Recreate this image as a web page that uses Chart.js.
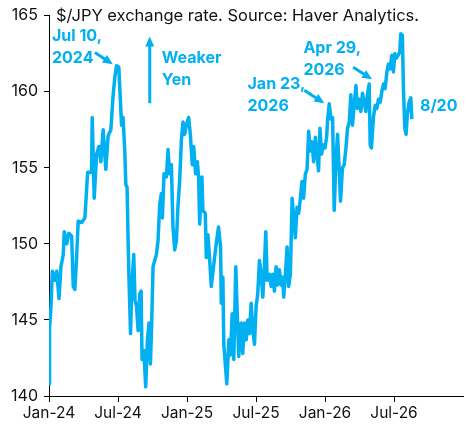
<!DOCTYPE html>
<html>
<head>
<meta charset="utf-8">
<script src="https://cdn.jsdelivr.net/npm/chart.js@4.4.1/dist/chart.umd.min.js"></script>
<style>
  html, body { margin: 0; padding: 0; background: #fff; }
  #wrap { width: 470px; height: 432px; }
</style>
</head>
<body>
<div id="wrap"><canvas id="fx"></canvas></div>
<script>
// x values are months since Jan 1, 2024
const months = [
  0.00, 0.05, 0.17, 0.29, 0.52, 0.67, 0.87, 1.04, 1.24, 1.33, 1.54, 1.73, 1.97, 2.11, 2.25, 2.40,
  2.54, 2.84, 3.12, 3.36, 3.70, 3.76, 3.93, 4.14, 4.34, 4.51, 4.71, 4.94, 5.14, 5.38, 5.58, 5.72,
  5.87, 6.07, 6.31, 6.44, 6.59, 6.68, 6.79, 6.88, 6.96, 7.09, 7.20, 7.37, 7.48, 7.61, 7.75, 7.89,
  8.01, 8.09, 8.24, 8.41, 8.56, 8.70, 8.82, 8.93, 9.05, 9.19, 9.34, 9.48, 9.63, 9.77, 9.86, 10.00,
  10.21, 10.35, 10.49, 10.64, 10.78, 10.93, 11.08, 11.21, 11.36, 11.51, 11.65, 11.80, 11.94, 12.14,
  12.29, 12.46, 12.58, 12.75, 12.90, 13.01, 13.10, 13.30, 13.38, 13.59, 13.68, 13.82, 13.96, 14.11,
  14.34, 14.54, 14.74, 14.92, 14.98, 15.12, 15.20, 15.35, 15.46, 15.64, 15.78, 15.93, 16.07, 16.24,
  16.37, 16.50, 16.71, 16.85, 17.00, 17.15, 17.29, 17.43, 17.58, 17.72, 17.87, 18.01, 18.15, 18.30,
  18.45, 18.59, 18.73, 18.85, 18.97, 19.17, 19.32, 19.45, 19.60, 19.75, 19.89, 20.03, 20.18, 20.32,
  20.41, 20.56, 20.70, 20.84, 20.99, 21.14, 21.27, 21.42, 21.57, 21.71, 21.86, 22.00, 22.14, 22.29,
  22.44, 22.58, 22.72, 22.87, 23.01, 23.16, 23.30, 23.44, 23.56, 23.70, 23.85, 24.00, 24.14, 24.22,
  24.37, 24.52, 24.66, 24.80, 24.95, 25.09, 25.24, 25.35, 25.52, 25.67, 25.82, 25.96, 26.11, 26.25,
  26.39, 26.54, 26.69, 26.82, 26.97, 27.12, 27.26, 27.41, 27.55, 27.69, 27.84, 27.93, 28.04, 28.21,
  28.36, 28.51, 28.65, 28.80, 28.94, 29.08, 29.23, 29.38, 29.51, 29.66, 29.81, 29.95, 30.07, 30.21,
  30.36, 30.50, 30.59, 30.73, 30.82, 30.94, 31.05, 31.16, 31.31, 31.46, 31.55
];

// $/JPY
const rates = [
  140.8, 144.5, 145.8, 148.2, 147.6, 148.2, 146.4, 148.5, 149.3, 150.8, 150.0, 150.7, 150.5, 147.2, 147.0, 149.1,
  151.5, 151.4, 151.7, 154.7, 154.7, 158.3, 153.0, 155.9, 156.4, 155.4, 157.5, 154.9, 157.1, 157.5, 159.8, 160.9,
  161.7, 161.6, 157.8, 158.3, 156.1, 153.9, 153.7, 150.2, 147.6, 144.1, 147.2, 149.3, 146.3, 145.9, 144.3, 146.7,
  146.9, 142.4, 143.0, 140.6, 143.7, 144.8, 142.1, 144.8, 148.5, 148.9, 149.3, 150.2, 152.6, 153.3, 151.7, 154.6,
  154.4, 156.2, 154.6, 155.2, 151.1, 149.6, 150.2, 152.4, 154.1, 156.8, 158.0, 157.2, 157.8, 158.3,
  157.2, 155.2, 156.4, 154.6, 155.4, 154.4, 151.3, 154.4, 152.2, 152.0, 149.1, 150.6, 149.1, 147.2,
  148.7, 150.0, 151.1, 149.8, 146.1, 147.8, 143.4, 141.9, 140.8, 143.7, 142.7, 145.4, 142.4, 148.5,
  145.4, 142.6, 144.8, 142.8, 144.8, 143.7, 145.0, 144.1, 146.1, 144.3, 143.4, 145.9, 146.7, 148.9,
  148.0, 146.5, 148.5, 150.8, 147.6, 148.0, 147.2, 148.0, 146.9, 148.5, 147.3, 148.3, 147.3, 147.8,
  146.5, 148.0, 149.8, 147.2, 148.0, 153.0, 151.9, 150.4, 152.4, 152.0, 153.0, 154.1, 153.0, 154.6,
  154.9, 157.4, 156.1, 156.7, 155.4, 157.0, 155.9, 154.8, 157.6, 155.9, 156.5, 156.3, 157.0, 158.1,
  159.2, 158.2, 158.3, 152.2, 155.4, 157.2, 154.8, 152.8, 155.0, 155.2, 156.3, 157.6, 158.0, 159.8,
  157.8, 159.1, 160.4, 158.9, 159.5, 158.7, 159.9, 159.3, 158.7, 159.8, 160.5, 156.5, 156.3, 158.3,
  159.1, 158.9, 159.5, 159.3, 160.0, 160.5, 160.2, 161.3, 161.8, 161.5, 162.4, 161.3, 162.5, 162.2,
  162.4, 162.6, 163.8, 163.7, 160.2, 157.6, 157.2, 158.5, 159.3, 159.6, 158.2
];

// tick labels every 6 months, last tick (Jan-27) left blank
const tickMonths = [0, 6, 12, 18, 24, 30, 36];
const tickLabels = ['Jan-24', 'Jul-24', 'Jan-25', 'Jul-25', 'Jan-26', 'Jul-26', ''];

// annotation texts, anchored in data units (month, rate)
const notes = [
  { lines: ['Jul 10,', '2024'], x: 0.26, y: 163.63 },
  { lines: ['Weaker', 'Yen'], x: 9.80, y: 162.22 },
  { lines: ['Jan 23,', '2026'], x: 17.26, y: 160.52 },
  { lines: ['Apr 29,', '2026'], x: 22.12, y: 162.87 },
  { lines: ['8/20'], x: 32.26, y: 159.05 }
];
// arrows: from [x, y] to [x, y], head at the "to" end
const arrows = [
  { from: [3.99, 162.58], to: [5.55, 161.80] },
  { from: [8.76, 159.24], to: [8.76, 163.63] },
  { from: [22.2, 160.09], to: [23.94, 159.24] },
  { from: [26.45, 161.60], to: [28.1, 160.81] }
];

const titleText = '$/JPY exchange rate. Source: Haver Analytics.';
const blue = '#00B0F0';
const fontFam = 'Inter, "Noto Sans", sans-serif';

let points = [];
for (let i = 0; i < months.length; i++) {
  points.push({ x: months[i], y: rates[i] });
}

// draws title, notes and arrows on top of the chart
const notesPlugin = {
  id: 'notes',
  afterDraw(chart) {
    const ctx = chart.ctx;
    const sx = chart.scales.x, sy = chart.scales.y;
    ctx.save();

    ctx.fillStyle = '#111';
    ctx.font = '16.5px ' + fontFam;
    ctx.textBaseline = 'middle';
    ctx.textAlign = 'left';
    ctx.fillText(titleText, chart.chartArea.left + 7, chart.chartArea.top);

    ctx.fillStyle = blue;
    ctx.font = 'bold 16px ' + fontFam;
    notes.forEach(function(n) {
      let px = sx.getPixelForValue(n.x);
      let py = sy.getPixelForValue(n.y);
      n.lines.forEach(function(t, k) {
        ctx.fillText(t, px, py + k * 22);
      });
    });

    ctx.strokeStyle = blue;
    ctx.lineWidth = 3;
    arrows.forEach(function(a) {
      let x1 = sx.getPixelForValue(a.from[0]), y1 = sy.getPixelForValue(a.from[1]);
      let x2 = sx.getPixelForValue(a.to[0]), y2 = sy.getPixelForValue(a.to[1]);
      let ang = Math.atan2(y2 - y1, x2 - x1);
      let head = 10;
      ctx.beginPath();
      ctx.moveTo(x1, y1);
      ctx.lineTo(x2 - Math.cos(ang) * head * 0.8, y2 - Math.sin(ang) * head * 0.8);
      ctx.stroke();
      ctx.beginPath();
      ctx.moveTo(x2, y2);
      ctx.lineTo(x2 - head * Math.cos(ang) + 4.5 * Math.sin(ang), y2 - head * Math.sin(ang) - 4.5 * Math.cos(ang));
      ctx.lineTo(x2 - head * Math.cos(ang) - 4.5 * Math.sin(ang), y2 - head * Math.sin(ang) + 4.5 * Math.cos(ang));
      ctx.closePath();
      ctx.fill();
    });
    ctx.restore();
  }
};

new Chart(document.getElementById('fx'), {
  type: 'line',
  data: {
    datasets: [{
      data: points,
      borderColor: blue,
      borderWidth: 3.5,
      pointRadius: 0,
      tension: 0,
      borderJoinStyle: 'round'
    }]
  },
  options: {
    responsive: true,
    maintainAspectRatio: false,
    animation: false,
    layout: { padding: { top: 14, right: 7, left: 0, bottom: 0 } },
    plugins: { legend: { display: false }, tooltip: { enabled: false } },
    scales: {
      x: {
        type: 'linear',
        min: 0,
        max: 36,
        afterBuildTicks: function(scale) {
          scale.ticks = tickMonths.map(function(v) { return { value: v }; });
        },
        afterFit: function(scale) { scale.height = 36; },
        ticks: {
          autoSkip: false,
          maxRotation: 0,
          color: '#111',
          font: { family: fontFam, size: 15.5 },
          padding: 2,
          callback: function(v) {
            let i = tickMonths.indexOf(v);
            return i >= 0 ? tickLabels[i] : '';
          }
        },
        grid: {
          drawOnChartArea: false,
          tickLength: 6,
          color: function(c) { return c.tick && c.tick.value === 36 ? 'rgba(0,0,0,0)' : '#000'; }
        },
        border: { color: '#000', width: 1 }
      },
      y: {
        min: 140,
        max: 165,
        afterFit: function(scale) { scale.width = 49; },
        ticks: {
          stepSize: 5,
          color: '#111',
          font: { family: fontFam, size: 16 },
          padding: 6
        },
        grid: { drawOnChartArea: false, tickLength: 5, color: '#000' },
        border: { color: '#000', width: 1 }
      }
    }
  },
  plugins: [notesPlugin]
});
</script>
</body>
</html>
